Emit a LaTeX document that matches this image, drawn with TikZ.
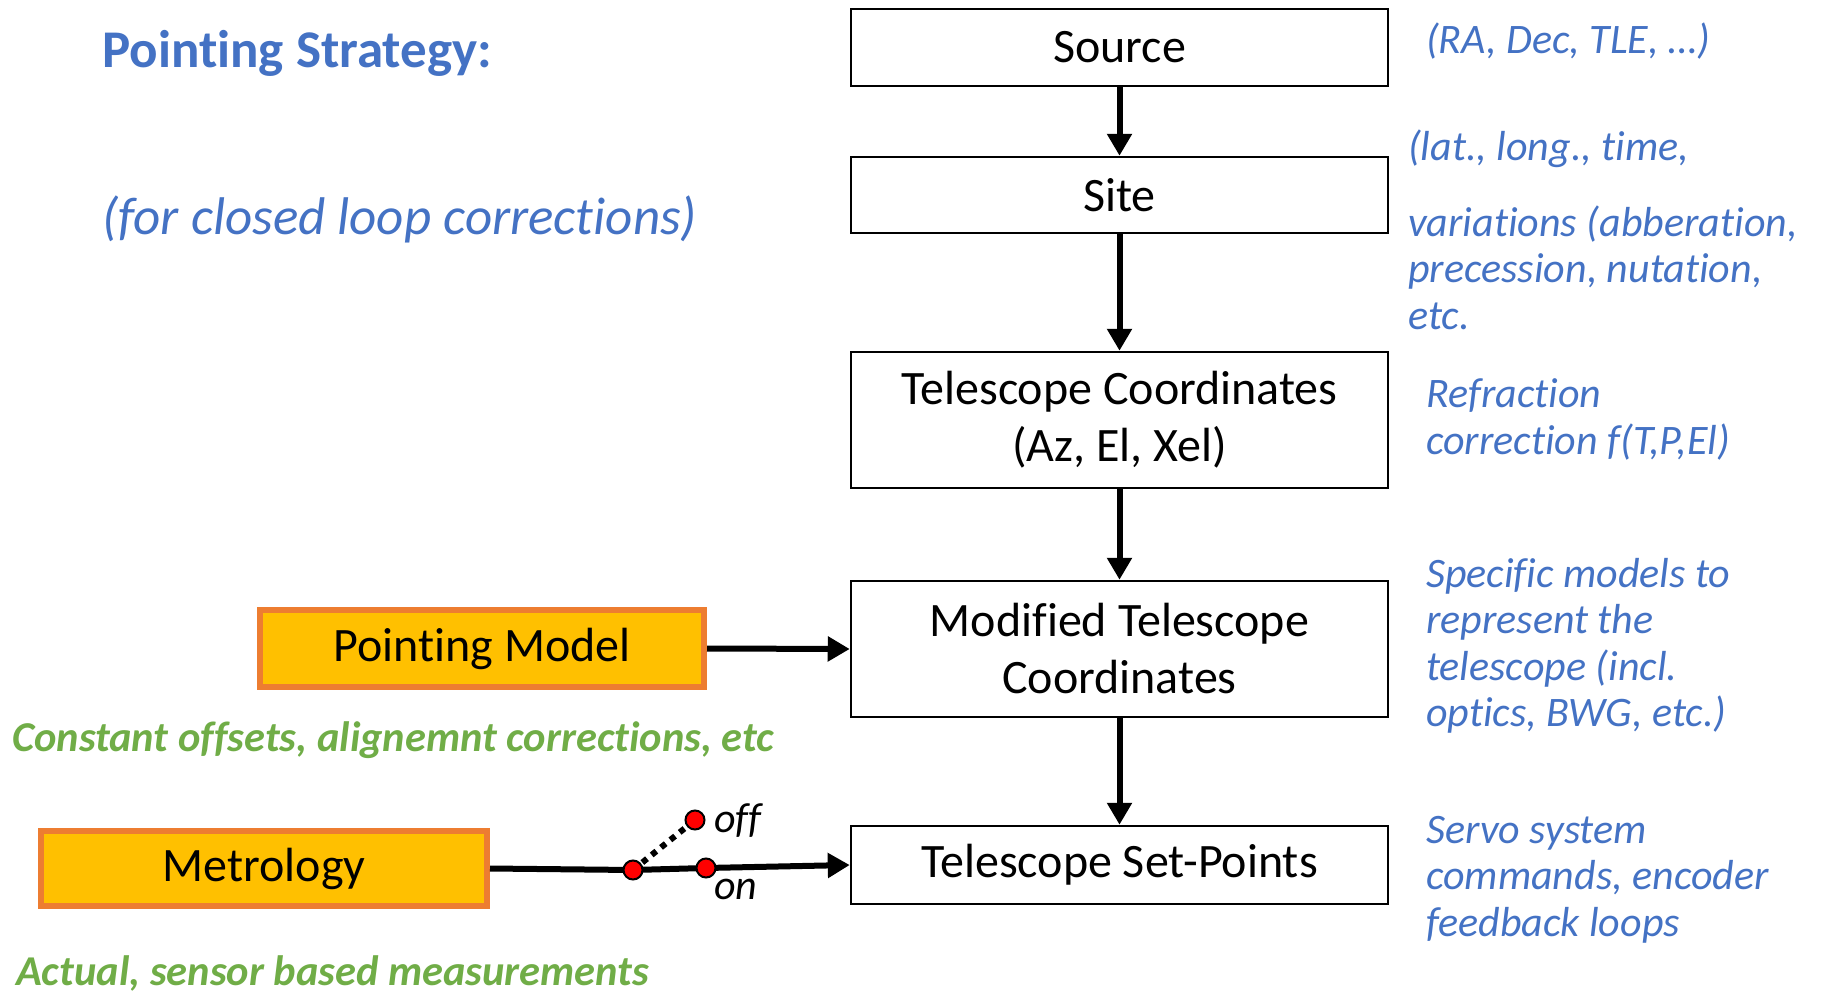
\documentclass[tikz,border=0pt]{standalone}
\usepackage{fontspec}
\setmainfont{Carlito}[RawFeature={-liga;-clig;-calt;-dlig}]
\usetikzlibrary{arrows.meta}
\definecolor{tblue}{HTML}{4472C4}
\definecolor{tgreen}{HTML}{70AD47}
\definecolor{borange}{HTML}{ED7D31}
\definecolor{byellow}{HTML}{FFC000}
\begin{document}
\begin{tikzpicture}[x=1pt,y=-1pt,
  flowbox/.style={draw=black,line width=2.5pt,fill=white,minimum width=537pt,align=center,inner sep=0pt,font=\fontsize{48}{57}\selectfont},
  inbox/.style={draw=borange,line width=6pt,fill=byellow,minimum width=444pt,inner sep=0pt,font=\fontsize{48}{57}\selectfont},
  note/.style={text=tblue,font=\fontsize{42}{46.5}\selectfont\itshape,align=left,inner sep=0pt,anchor=west},
  gnote/.style={text=tgreen,font=\fontsize{42.5}{46}\selectfont\bfseries\itshape,inner sep=0pt,anchor=west},
  flow/.style={line width=6pt,-{Triangle[length=22pt,width=24pt]}},
  dot/.style={circle,draw=black,line width=2pt,fill=red,minimum size=19pt,inner sep=0pt}]
\useasboundingbox (0,0) rectangle (1821,993);
% main chain
\node[flowbox,minimum height=77pt] (src) at (1119.5,47.5) {Source};
\node[flowbox,minimum height=76pt] (site) at (1119.5,195) {Site};
\node[flowbox,minimum height=136pt] (tel) at (1119.5,420) {Telescope Coordinates\\(Az, El, Xel)};
\node[flowbox,minimum height=136pt] (mod) at (1119.5,649) {Modified Telescope\\Coordinates};
\node[flowbox,minimum height=78pt] (sp) at (1119.5,865) {Telescope Set-Points};
\draw[flow] (src) -- (site);
\draw[flow] (site) -- (tel);
\draw[flow] (tel) -- (mod);
\draw[flow] (mod) -- (sp);
% inputs
\node[inbox,minimum height=77pt] (pm) at (482,648.5) {Pointing Model};
\node[inbox,minimum height=75pt,minimum width=446pt] (met) at (264,868.5) {Metrology};
\draw[flow] (pm.east) -- (mod.west);
% switch
\coordinate (s1) at (633,870);
\coordinate (s2) at (706,868);
\coordinate (soff) at (695,820);
\draw[line width=6pt] (met.east) -- (s1) -- (s2);
\draw[flow] (s2) -- (sp.west);
\draw[line width=6pt,dash pattern=on 6pt off 6pt] (s1) -- (soff);
\node[dot] (d1) at (s1) {};
\node[dot] (d2) at (s2) {};
\node[dot] (d3) at (soff) {};
\node[anchor=base west,inner sep=0pt,font=\fontsize{42}{46}\selectfont\itshape] (offl) at (714,832) {off};
\node[anchor=base west,inner sep=0pt,font=\fontsize{42}{46}\selectfont\itshape] (onl) at (714,899) {on};
% titles
\node[anchor=west,inner sep=0pt,text=tblue,font=\fontsize{53}{60}\selectfont\bfseries] (title) at (102,53) {Pointing Strategy:};
\node[anchor=west,inner sep=0pt,text=tblue,font=\fontsize{53}{60}\selectfont\itshape] (sub) at (102,219) {(for closed loop corrections)};
% green notes
\node[gnote] (g1) at (12,740) {Constant offsets, alignemnt corrections, etc};
\node[gnote] (g2) at (16,973) {Actual, sensor based measurements};
% right notes
\node[note] (n1) at (1426,41) {(RA, Dec, TLE, …)};
\node[note] (n2) at (1408,149) {(lat., long., time,};
\node[note] (n3) at (1408,267.5) {variations (abberation,\\precession, nutation,\\etc.};
\node[note] (n4) at (1426,419.5) {Refraction\\correction f(T,P,El)};
\node[note] (n5) at (1426,646) {Specific models to\\represent the\\telescope (incl.\\optics, BWG, etc.)};
\node[note] (n6) at (1426,879.5) {Servo system\\commands, encoder\\feedback loops};
\end{tikzpicture}
\end{document}
